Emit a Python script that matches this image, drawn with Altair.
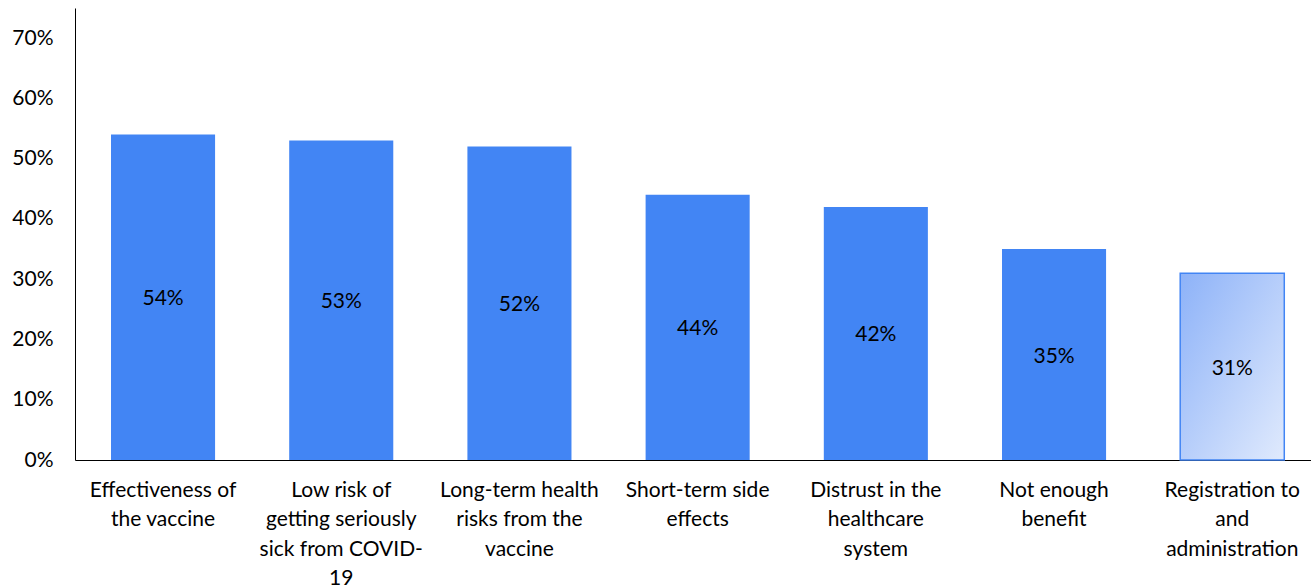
import altair as alt
import pandas as pd

categories = [
    "Effectiveness of|the vaccine",
    "Low risk of|getting seriously|sick from COVID-|19",
    "Long-term health|risks from the|vaccine",
    "Short-term side|effects",
    "Distrust in the|healthcare|system",
    "Not enough|benefit",
    "Registration to|and|administration",
]
values = [0.54, 0.53, 0.52, 0.44, 0.42, 0.35, 0.31]
highlight = [0, 0, 0, 0, 0, 0, 1]

df = pd.DataFrame({"cat": categories, "val": values, "hl": highlight})

FONT = "Lato"
FS = 21

x = alt.X(
    "cat:N",
    sort=categories,
    title=None,
    scale=alt.Scale(paddingInner=0.416, paddingOuter=0.176, align=0.574),
    axis=alt.Axis(
        labelAngle=0,
        labelExpr="split(datum.label, '|')",
        labelLineHeight=29.5,
        labelFontSize=FS,
        labelFont=FONT,
        labelColor="#000000",
        labelPadding=19,
        ticks=False,
        domainColor="#000000",
        domainWidth=1,
        labelLimit=300,
    ),
)
y = alt.Y(
    "val:Q",
    title=None,
    scale=alt.Scale(domain=[0, 0.75], nice=False),
    axis=alt.Axis(
        values=[0, 0.1, 0.2, 0.3, 0.4, 0.5, 0.6, 0.7],
        format=".0%",
        grid=False,
        ticks=False,
        labelFontSize=FS,
        labelFont=FONT,
        labelColor="#000000",
        labelPadding=22,
        domainColor="#000000",
        domainWidth=1,
    ),
)

base = alt.Chart(df)

solid = base.transform_filter("datum.hl == 0").mark_bar(color="#4285F4").encode(x=x, y=y)

grad = alt.Gradient(
    gradient="linear",
    x1=0, y1=0, x2=1, y2=1,
    stops=[
        alt.GradientStop(color="#8DB2F8", offset=0),
        alt.GradientStop(color="#E0EAFD", offset=1),
    ],
)
light = base.transform_filter("datum.hl == 1").mark_bar(
    color=grad, stroke="#4285F4", strokeWidth=1.5
).encode(x=x, y=y)

text = base.transform_calculate(mid="datum.val / 2").mark_text(
    font=FONT, fontSize=FS, color="#000000", baseline="middle", dy=2
).encode(
    x=alt.X("cat:N", sort=categories),
    y=alt.Y("mid:Q"),
    text=alt.Text("val:Q", format=".0%"),
)

chart = (
    alt.layer(solid, light, text)
    .properties(
        width=1236,
        height=452,
        padding={"left": 75, "top": 8, "right": 0, "bottom": 128},
        autosize=alt.AutoSizeParams(type="none"),
        background="#FFFFFF",
    )
    .configure_view(stroke=None, strokeWidth=0)
)

chart.save("out.html", embed_options={"renderer": "svg", "actions": False})
